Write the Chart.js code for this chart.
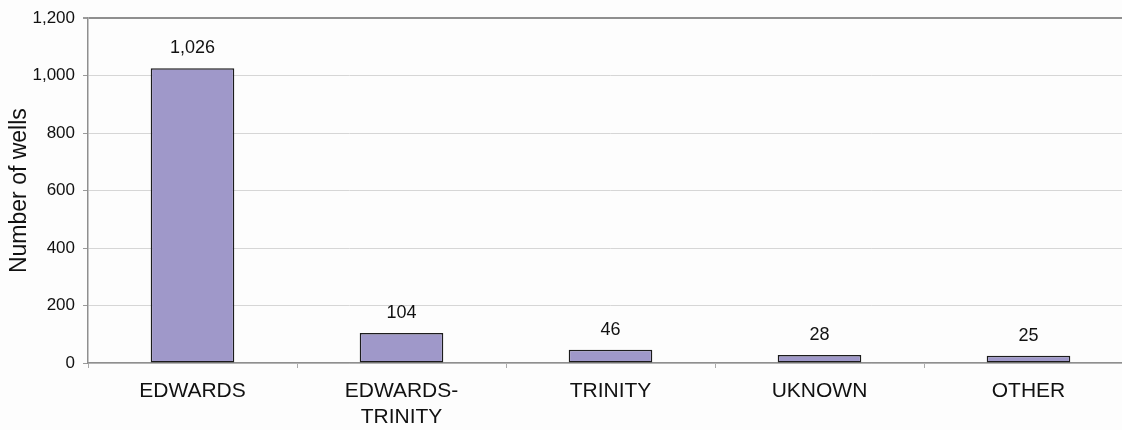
<!DOCTYPE html>
<html>
<head>
<meta charset="utf-8">
<script src="https://cdn.jsdelivr.net/npm/chart.js@4"></script>
<style>
  html, body { margin: 0; padding: 0; background: #fdfdfd; overflow: hidden; }
  #wrap { width: 1134px; height: 430px; position: relative; }
</style>
</head>
<body>
<div id="wrap"><canvas id="wellsChart"></canvas></div>
<script>
// Wells by aquifer
const aquiferLabels = ['EDWARDS', ['EDWARDS-', 'TRINITY'], 'TRINITY', 'UKNOWN', 'OTHER'];
const wellCounts = [1026, 104, 46, 28, 25];
const yTicks = [0, 200, 400, 600, 800, 1000, 1200];

const FONT = 'Arial, "Liberation Sans", sans-serif';

// write the count above each bar
const barValues = {
    id: 'barValues',
    afterDatasetsDraw(chart) {
        const ctx = chart.ctx;
        const meta = chart.getDatasetMeta(0);
        ctx.save();
        ctx.font = '18px ' + FONT;
        ctx.fillStyle = '#111';
        ctx.textAlign = 'center';
        ctx.textBaseline = 'bottom';
        meta.data.forEach((bar, i) => {
            ctx.fillText(wellCounts[i].toLocaleString('en-US'), bar.x, bar.y - 11);
        });
        ctx.restore();
    }
};

const ctx = document.getElementById('wellsChart').getContext('2d');
new Chart(ctx, {
    type: 'bar',
    data: {
        labels: aquiferLabels,
        datasets: [{
            label: 'Number of wells',
            data: wellCounts,
            backgroundColor: '#9f98c9',
            borderColor: '#1c1c1c',
            borderWidth: 1.5,
            borderSkipped: false,
            categoryPercentage: 0.4,
            barPercentage: 1.0
        }]
    },
    options: {
        responsive: true,
        maintainAspectRatio: false,
        animation: false,
        layout: { padding: { top: 14, right: 1, left: 0, bottom: 0 } },
        plugins: {
            legend: { display: false },
            tooltip: { enabled: false }
        },
        scales: {
            x: {
                grid: {
                    offset: true,
                    drawOnChartArea: false,
                    drawTicks: true,
                    tickLength: 5,
                    color: '#aaaaaa'
                },
                border: { color: '#8f8f8f', width: 1.5 },
                ticks: {
                    color: '#111',
                    font: { family: FONT, size: 21 },
                    padding: 11,
                    maxRotation: 0
                },
                afterFit(scale) { scale.height = 67; }
            },
            y: {
                min: 0,
                max: 1200,
                afterBuildTicks(scale) {
                    scale.ticks = yTicks.map(v => ({ value: v }));
                },
                grid: {
                    color: ctx => ctx.tick && ctx.tick.value === 1200 ? '#8f8f8f' : '#d6d6d6',
                    lineWidth: ctx => ctx.tick && ctx.tick.value === 1200 ? 2 : 1,
                    tickLength: 5,
                    tickColor: '#9a9a9a'
                },
                border: { color: '#8f8f8f', width: 1.5 },
                ticks: {
                    color: '#111',
                    font: { family: FONT, size: 17 },
                    padding: 8,
                    callback: v => v.toLocaleString('en-US')
                },
                title: {
                    display: true,
                    text: 'Number of wells',
                    color: '#111',
                    font: { family: FONT, size: 23 },
                    padding: { top: 6, bottom: 0 }
                },
                afterFit(scale) { scale.width = 88; }
            }
        }
    },
    plugins: [barValues]
});
</script>
</body>
</html>
